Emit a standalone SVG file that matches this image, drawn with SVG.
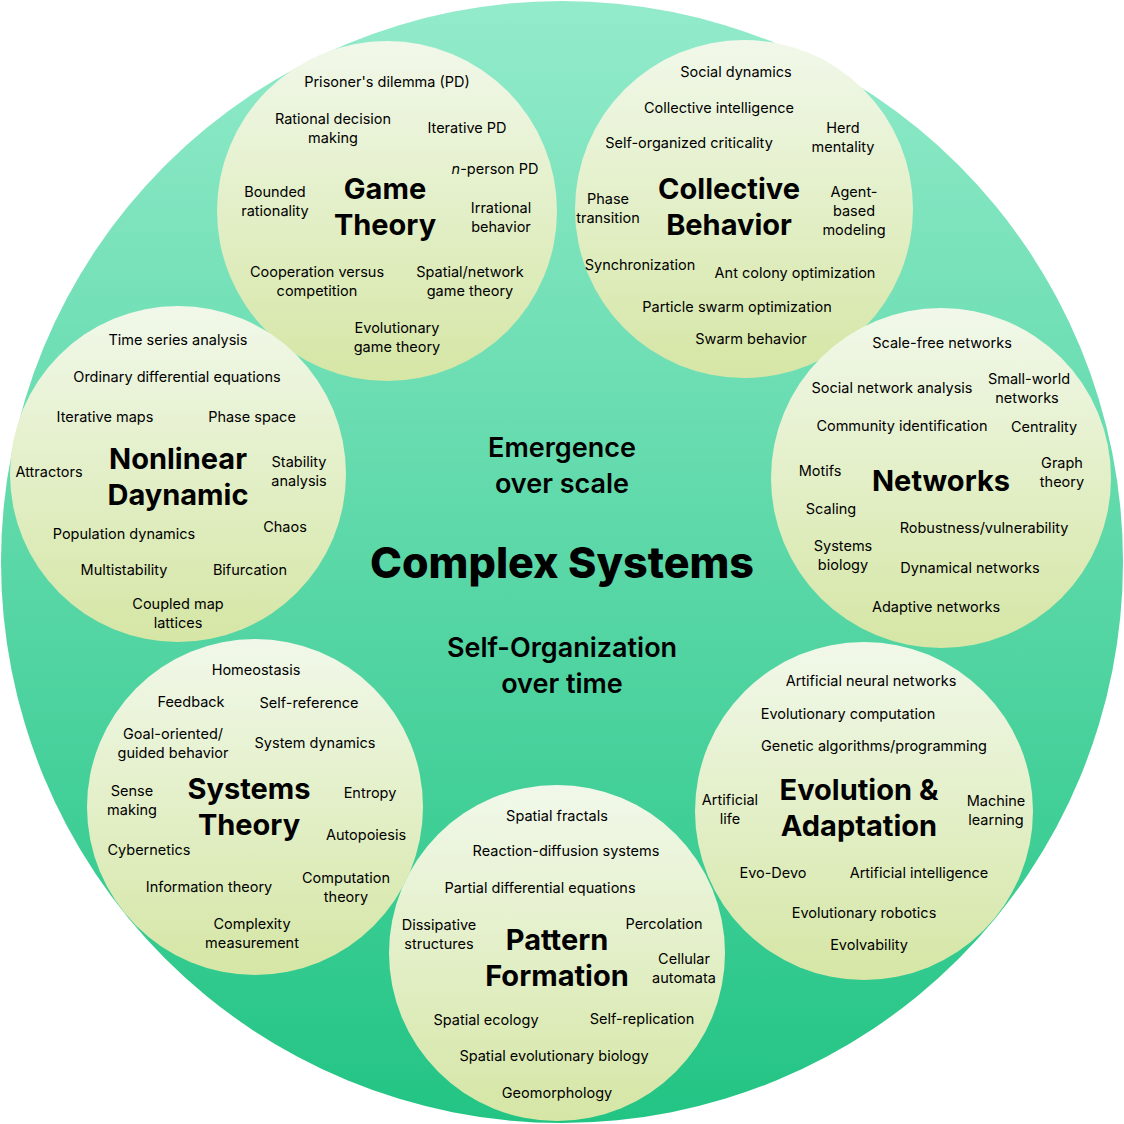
<svg xmlns="http://www.w3.org/2000/svg" width="1124" height="1124" viewBox="0 0 1124 1124">
<defs>
<linearGradient id="big" x1="0" y1="0" x2="0" y2="1"><stop offset="0" stop-color="#93ebcb"/><stop offset="1" stop-color="#22c484"/></linearGradient>
<linearGradient id="sm" x1="0" y1="0" x2="0" y2="1"><stop offset="0" stop-color="#f1f8ea"/><stop offset="1" stop-color="#d5e6a5"/></linearGradient>
<style>
text{font-family:Inter,"Liberation Sans",sans-serif;fill:#000;text-anchor:middle}
.s{font-size:14.5px}
.t{font-size:29px;font-weight:700}
.c{font-size:43px;font-weight:800}
.m{font-size:27px;font-weight:600}
circle.n{fill:url(#sm)}
</style>
</defs>
<circle cx="562" cy="562" r="561" fill="url(#big)"/>
<g id="center">
<text class="m" x="562" y="457">Emergence</text><text class="m" x="562" y="493">over scale</text>
<text class="c" x="562" y="578">Complex Systems</text>
<text class="m" x="562" y="657">Self-Organization</text><text class="m" x="562" y="693">over time</text>
</g>
<g id="connectors"></g>
<g id="game-theory">
<circle class="n" cx="387" cy="211" r="170"/>
<text class="t" x="385" y="199">Game</text><text class="t" x="385" y="235">Theory</text>
<text class="s" x="387" y="87">Prisoner's dilemma (PD)</text>
<text class="s" x="333" y="124">Rational decision</text><text class="s" x="333" y="143">making</text>
<text class="s" x="467" y="133">Iterative PD</text>
<text class="s" x="495" y="174"><tspan font-style="italic">n</tspan>-person PD</text>
<text class="s" x="275" y="197">Bounded</text><text class="s" x="275" y="216">rationality</text>
<text class="s" x="501" y="213">Irrational</text><text class="s" x="501" y="232">behavior</text>
<text class="s" x="317" y="277">Cooperation versus</text><text class="s" x="317" y="296">competition</text>
<text class="s" x="470" y="277">Spatial/network</text><text class="s" x="470" y="296">game theory</text>
<text class="s" x="397" y="333">Evolutionary</text><text class="s" x="397" y="352">game theory</text>
</g>
<g id="collective-behavior">
<circle class="n" cx="744" cy="209" r="169"/>
<text class="t" x="729" y="199">Collective</text><text class="t" x="729" y="235">Behavior</text>
<text class="s" x="736" y="77">Social dynamics</text>
<text class="s" x="719" y="113">Collective intelligence</text>
<text class="s" x="689" y="148">Self-organized criticality</text>
<text class="s" x="843" y="133">Herd</text><text class="s" x="843" y="152">mentality</text>
<text class="s" x="608" y="204">Phase</text><text class="s" x="608" y="223">transition</text>
<text class="s" x="854" y="197">Agent-</text><text class="s" x="854" y="216">based</text><text class="s" x="854" y="235">modeling</text>
<text class="s" x="640" y="270">Synchronization</text>
<text class="s" x="795" y="278">Ant colony optimization</text>
<text class="s" x="737" y="312">Particle swarm optimization</text>
<text class="s" x="751" y="344">Swarm behavior</text>
</g>
<g id="networks">
<circle class="n" cx="941" cy="478" r="170"/>
<text class="t" x="941" y="491">Networks</text>
<text class="s" x="942" y="348">Scale-free networks</text>
<text class="s" x="892" y="393">Social network analysis</text>
<text class="s" x="1029" y="384">Small-world</text><text class="s" x="1027" y="403">networks</text>
<text class="s" x="902" y="431">Community identification</text>
<text class="s" x="1044" y="432">Centrality</text>
<text class="s" x="820" y="476">Motifs</text>
<text class="s" x="1062" y="468">Graph</text><text class="s" x="1062" y="487">theory</text>
<text class="s" x="831" y="514">Scaling</text>
<text class="s" x="984" y="533">Robustness/vulnerability</text>
<text class="s" x="843" y="551">Systems</text><text class="s" x="843" y="570">biology</text>
<text class="s" x="970" y="573">Dynamical networks</text>
<text class="s" x="936" y="612">Adaptive networks</text>
</g>
<g id="nonlinear">
<circle class="n" cx="178" cy="474" r="168"/>
<text class="t" x="178" y="469">Nonlinear</text><text class="t" x="178" y="505">Daynamic</text>
<text class="s" x="178" y="345">Time series analysis</text>
<text class="s" x="177" y="382">Ordinary differential equations</text>
<text class="s" x="105" y="422">Iterative maps</text>
<text class="s" x="252" y="422">Phase space</text>
<text class="s" x="49" y="477">Attractors</text>
<text class="s" x="299" y="467">Stability</text><text class="s" x="299" y="486">analysis</text>
<text class="s" x="285" y="532">Chaos</text>
<text class="s" x="124" y="539">Population dynamics</text>
<text class="s" x="124" y="575">Multistability</text>
<text class="s" x="250" y="575">Bifurcation</text>
<text class="s" x="178" y="609">Coupled map</text><text class="s" x="178" y="628">lattices</text>
</g>
<g id="systems-theory">
<circle class="n" cx="255" cy="807" r="168"/>
<text class="t" x="249" y="799">Systems</text><text class="t" x="249" y="835">Theory</text>
<text class="s" x="256" y="675">Homeostasis</text>
<text class="s" x="191" y="707">Feedback</text>
<text class="s" x="309" y="708">Self-reference</text>
<text class="s" x="173" y="739">Goal-oriented/</text><text class="s" x="173" y="758">guided behavior</text>
<text class="s" x="315" y="748">System dynamics</text>
<text class="s" x="132" y="796">Sense</text><text class="s" x="132" y="815">making</text>
<text class="s" x="370" y="798">Entropy</text>
<text class="s" x="366" y="840">Autopoiesis</text>
<text class="s" x="149" y="855">Cybernetics</text>
<text class="s" x="209" y="892">Information theory</text>
<text class="s" x="346" y="883">Computation</text><text class="s" x="346" y="902">theory</text>
<text class="s" x="252" y="929">Complexity</text><text class="s" x="252" y="948">measurement</text>
</g>
<g id="pattern-formation">
<circle class="n" cx="557" cy="953" r="168"/>
<text class="t" x="557" y="950">Pattern</text><text class="t" x="557" y="986">Formation</text>
<text class="s" x="557" y="821">Spatial fractals</text>
<text class="s" x="566" y="856">Reaction-diffusion systems</text>
<text class="s" x="540" y="893">Partial differential equations</text>
<text class="s" x="439" y="930">Dissipative</text><text class="s" x="439" y="949">structures</text>
<text class="s" x="664" y="929">Percolation</text>
<text class="s" x="684" y="964">Cellular</text><text class="s" x="684" y="983">automata</text>
<text class="s" x="486" y="1025">Spatial ecology</text>
<text class="s" x="642" y="1024">Self-replication</text>
<text class="s" x="554" y="1061">Spatial evolutionary biology</text>
<text class="s" x="557" y="1098">Geomorphology</text>
</g>
<g id="evolution">
<circle class="n" cx="864" cy="811" r="169"/>
<text class="t" x="859" y="800">Evolution &amp;</text><text class="t" x="859" y="836">Adaptation</text>
<text class="s" x="871" y="686">Artificial neural networks</text>
<text class="s" x="848" y="719">Evolutionary computation</text>
<text class="s" x="874" y="751">Genetic algorithms/programming</text>
<text class="s" x="730" y="805">Artificial</text><text class="s" x="730" y="824">life</text>
<text class="s" x="996" y="806">Machine</text><text class="s" x="996" y="825">learning</text>
<text class="s" x="773" y="878">Evo-Devo</text>
<text class="s" x="919" y="878">Artificial intelligence</text>
<text class="s" x="864" y="918">Evolutionary robotics</text>
<text class="s" x="869" y="950">Evolvability</text>
</g>
</svg>
